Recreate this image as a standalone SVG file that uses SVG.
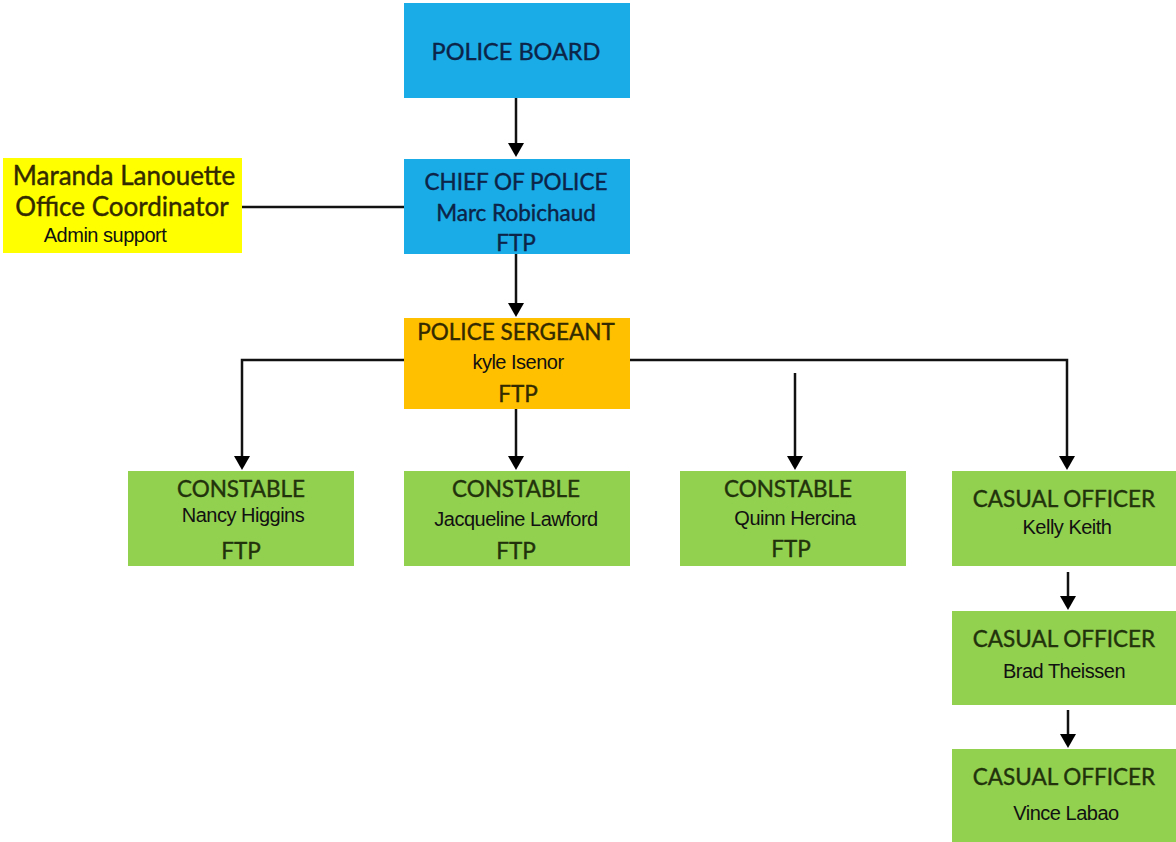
<svg xmlns="http://www.w3.org/2000/svg" width="1176" height="842" viewBox="0 0 1176 842">
<style>
.blue{fill:#1aace6}
.orange{fill:#ffc000}
.yellow{fill:#ffff00}
.green{fill:#92d050}
.t{font-family:Lato,"Open Sans","Noto Sans",sans-serif;font-size:22.5px;text-anchor:middle;stroke-width:0.4}
.tb{fill:#0c2448;stroke:#0c2448}
.tg{fill:#22330c;stroke:#22330c}
.ty{fill:#332a00;stroke:#332a00}
.n{font-family:"Liberation Sans",Arial,sans-serif;font-size:20px;text-anchor:middle;fill:#111;letter-spacing:-0.5px}
.c{stroke:#111;stroke-width:2.5;fill:none}
</style>
<rect width="1176" height="842" fill="#fff"/>
<g id="connectors">
<line class="c" x1="516" y1="98" x2="516" y2="146"/>
<line class="c" x1="242" y1="207" x2="404" y2="207"/>
<line class="c" x1="516" y1="254" x2="516" y2="306"/>
<path class="c" d="M404,360 H242 V460"/>
<path class="c" d="M630,360 H1067 V460"/>
<line class="c" x1="516" y1="409" x2="516" y2="460"/>
<line class="c" x1="795" y1="373" x2="795" y2="460"/>
<line class="c" x1="1068" y1="572" x2="1068" y2="600"/>
<line class="c" x1="1068" y1="710" x2="1068" y2="738"/>
</g>
<g id="arrowheads" fill="#000">
<path d="M508,143 H524 L516,157 Z"/>
<path d="M508,303 H524 L516,317 Z"/>
<path d="M234,456 H250 L242,470 Z"/>
<path d="M508,456 H524 L516,470 Z"/>
<path d="M787,456 H803 L795,470 Z"/>
<path d="M1059,456 H1075 L1067,470 Z"/>
<path d="M1060,596 H1076 L1068,610 Z"/>
<path d="M1060,734 H1076 L1068,748 Z"/>
</g>
<g id="police-board">
<rect class="blue" x="404" y="3" width="226" height="95"/>
<text class="t tb" x="516" y="60" style="font-size:23.5px">POLICE BOARD</text>
</g>
<g id="chief">
<rect class="blue" x="404" y="159" width="226" height="95"/>
<text class="t tb" x="516" y="190">CHIEF OF POLICE</text>
<text class="t tb" x="516" y="221">Marc Robichaud</text>
<text class="t tb" x="516" y="251">FTP</text>
</g>
<g id="coordinator">
<rect class="yellow" x="3" y="158" width="239" height="95"/>
<text class="t ty" x="124" y="185" style="font-size:26px">Maranda Lanouette</text>
<text class="t ty" x="122" y="216" style="font-size:26px">Office Coordinator</text>
<text class="n" x="105" y="242">Admin support</text>
</g>
<g id="sergeant">
<rect class="orange" x="404" y="318" width="226" height="91"/>
<text class="t ty" x="516" y="340">POLICE SERGEANT</text>
<text class="n" x="518" y="369">kyle Isenor</text>
<text class="t ty" x="518" y="402">FTP</text>
</g>
<g id="constable-higgins">
<rect class="green" x="128" y="471" width="226" height="95"/>
<text class="t tg" x="241" y="497">CONSTABLE</text>
<text class="n" x="243" y="522">Nancy Higgins</text>
<text class="t tg" x="241" y="559">FTP</text>
</g>
<g id="constable-lawford">
<rect class="green" x="404" y="471" width="226" height="95"/>
<text class="t tg" x="516" y="497">CONSTABLE</text>
<text class="n" x="516" y="526">Jacqueline Lawford</text>
<text class="t tg" x="516" y="559">FTP</text>
</g>
<g id="constable-hercina">
<rect class="green" x="680" y="471" width="226" height="95"/>
<text class="t tg" x="788" y="497">CONSTABLE</text>
<text class="n" x="795" y="525">Quinn Hercina</text>
<text class="t tg" x="791" y="557">FTP</text>
</g>
<g id="casual-keith">
<rect class="green" x="952" y="471" width="224" height="95"/>
<text class="t tg" x="1064" y="507">CASUAL OFFICER</text>
<text class="n" x="1067" y="534">Kelly Keith</text>
</g>
<g id="casual-theissen">
<rect class="green" x="952" y="611" width="224" height="94"/>
<text class="t tg" x="1064" y="647">CASUAL OFFICER</text>
<text class="n" x="1064" y="678">Brad Theissen</text>
</g>
<g id="casual-labao">
<rect class="green" x="952" y="749" width="224" height="93"/>
<text class="t tg" x="1064" y="785">CASUAL OFFICER</text>
<text class="n" x="1066" y="820">Vince Labao</text>
</g>
</svg>
